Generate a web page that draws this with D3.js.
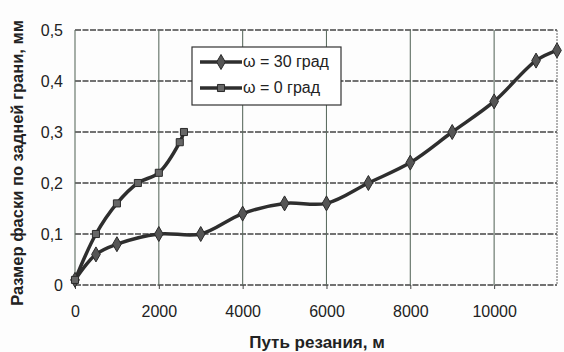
<!DOCTYPE html>
<html><head><meta charset="utf-8">
<script src="https://cdn.jsdelivr.net/npm/d3@7"></script>
<style>html,body{margin:0;padding:0;background:#fdfdfd;}svg{display:block;font-family:"Liberation Sans",Arial,sans-serif;}</style>
</head><body><svg id="c" width="564" height="352"></svg>
<script>
const xTicks = [0, 2000, 4000, 6000, 8000, 10000];
const yTicks = [0, 0.1, 0.2, 0.3, 0.4, 0.5];
const seriesNames = ["ω = 30 град", "ω = 0 град"];
const path30 = [0, 500, 1000, 2000, 3000, 4000, 5000, 6000, 7000, 8000, 9000, 10000, 11000, 11500];
const wear30 = [0.01, 0.06, 0.08, 0.10, 0.10, 0.14, 0.16, 0.16, 0.20, 0.24, 0.30, 0.36, 0.44, 0.46];
const path0 = [0, 500, 1000, 1500, 2000, 2500, 2600];
const wear0 = [0.01, 0.10, 0.16, 0.20, 0.22, 0.28, 0.30];
const xTitle = "Путь резания, м";
const yTitle = "Размер фаски по задней грани, мм";

const svg = d3.select("#c");
const L = 75, R = 557, T = 30, B = 285;
const x = d3.scaleLinear().domain([0, 11500]).range([L, R]);
const y = d3.scaleLinear().domain([0, 0.5]).range([B, T]);

// grid
svg.append("g").selectAll("line").data(yTicks).join("line")
  .attr("x1", L).attr("x2", R).attr("y1", d => y(d)).attr("y2", d => y(d))
  .attr("stroke", "#444").attr("stroke-width", 1.3).attr("stroke-dasharray", "6,1.5");
svg.append("g").selectAll("line").data(xTicks).join("line")
  .attr("x1", d => x(d)).attr("x2", d => x(d)).attr("y1", T).attr("y2", B)
  .attr("stroke", "#5e6e62").attr("stroke-width", 1.1);
svg.append("line").attr("x1", R).attr("x2", R).attr("y1", T).attr("y2", B)
  .attr("stroke", "#666").attr("stroke-width", 1).attr("stroke-dasharray", "2,1");

// axes labels
const xa = svg.append("g").attr("transform", `translate(0,${B})`)
  .call(d3.axisBottom(x).tickValues(xTicks).tickSize(4).tickPadding(0).tickFormat(d3.format("d")));
xa.select(".domain").remove();
xa.selectAll("line").attr("stroke", "#444");
xa.selectAll("text").attr("font-size", 16).attr("fill", "#222").attr("dy", null).attr("y", 32);
const ya = svg.append("g").attr("transform", `translate(${L},0)`)
  .call(d3.axisLeft(y).tickValues(yTicks).tickSize(0).tickPadding(12)
  .tickFormat(d => d === 0 ? "0" : d3.format(".1f")(d).replace(".", ",")));
ya.select(".domain").remove();
ya.selectAll("text").attr("font-size", 16).attr("fill", "#222");

svg.append("text").attr("x", 317).attr("y", 348).attr("text-anchor", "middle")
  .attr("font-size", 17).attr("font-weight", "bold").attr("fill", "#222").text(xTitle);
svg.append("text").attr("transform", "translate(23,163) rotate(-90)").attr("text-anchor", "middle")
  .attr("font-size", 16.5).attr("font-weight", "bold").attr("fill", "#222").text(yTitle);

// series
const line = d3.line().x(d => x(d[0])).y(d => y(d[1])).curve(d3.curveCatmullRom.alpha(0.5));
const d30 = path30.map((p, i) => [p, wear30[i]]);
const d0 = path0.map((p, i) => [p, wear0[i]]);
[d30, d0].forEach(d => {
  svg.append("path").datum(d).attr("d", line).attr("fill", "none")
    .attr("stroke", "#2e2e2e").attr("stroke-width", 3.5).attr("stroke-linejoin", "round");
});
const diamond = d3.symbol().type(d3.symbolDiamond).size(65);
const square = d3.symbol().type(d3.symbolSquare).size(50);
svg.append("g").selectAll("path").data(d30).join("path")
  .attr("transform", d => `translate(${x(d[0])},${y(d[1])})`).attr("d", diamond)
  .attr("fill", "#555").attr("stroke", "#2a2a2a").attr("stroke-width", 1);
svg.append("g").selectAll("path").data(d0).join("path")
  .attr("transform", d => `translate(${x(d[0])},${y(d[1])})`).attr("d", square)
  .attr("fill", "#666").attr("stroke", "#2a2a2a").attr("stroke-width", 1);

// legend
const lg = svg.append("g");
lg.append("rect").attr("x", 192).attr("y", 47).attr("width", 149).attr("height", 58)
  .attr("fill", "#fff").attr("stroke", "#333").attr("stroke-width", 1.2);
seriesNames.forEach((name, i) => {
  const yy = 62 + i * 26;
  lg.append("line").attr("x1", 200).attr("x2", 242).attr("y1", yy).attr("y2", yy)
    .attr("stroke", "#2e2e2e").attr("stroke-width", 3.5);
  lg.append("path").attr("transform", `translate(221,${yy})`).attr("d", i === 0 ? diamond : square)
    .attr("fill", i === 0 ? "#555" : "#666").attr("stroke", "#2a2a2a");
  lg.append("text").attr("x", 243).attr("y", yy + 5).attr("font-size", 16)
    .attr("fill", "#222").text(name);
});
</script></body></html>
